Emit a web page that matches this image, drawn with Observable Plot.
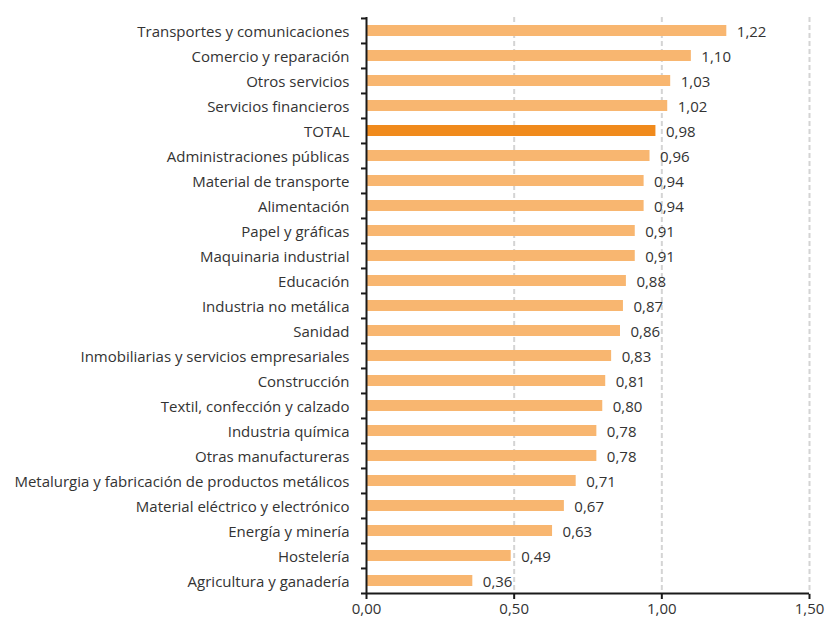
<!DOCTYPE html>
<html>
<head>
<meta charset="utf-8">
<script src="https://cdn.jsdelivr.net/npm/d3@7"></script>
<script src="https://cdn.jsdelivr.net/npm/@observablehq/plot@0.6"></script>
<style>
  html, body { margin: 0; padding: 0; background: #fff; }
  #chart { width: 828px; height: 624px; }
</style>
</head>
<body>
<div id="chart"></div>
<script>
const categories = [
  "Transportes y comunicaciones",
  "Comercio y reparación",
  "Otros servicios",
  "Servicios financieros",
  "TOTAL",
  "Administraciones públicas",
  "Material de transporte",
  "Alimentación",
  "Papel y gráficas",
  "Maquinaria industrial",
  "Educación",
  "Industria no metálica",
  "Sanidad",
  "Inmobiliarias y servicios empresariales",
  "Construcción",
  "Textil, confección y calzado",
  "Industria química",
  "Otras manufactureras",
  "Metalurgia y fabricación de productos metálicos",
  "Material eléctrico y electrónico",
  "Energía y minería",
  "Hostelería",
  "Agricultura y ganadería"
];
const values = [1.22, 1.10, 1.03, 1.02, 0.98, 0.96, 0.94, 0.94, 0.91, 0.91, 0.88, 0.87, 0.86, 0.83, 0.81, 0.80, 0.78, 0.78, 0.71, 0.67, 0.63, 0.49, 0.36];
const xTicks = [0, 0.5, 1.0, 1.5];
const gridTicks = [0.5, 1.0, 1.5];
const highlight = "TOTAL";

const data = categories.map((c, i) => ({category: c, value: values[i]}));
const fmt = d3.formatLocale({decimal: ",", thousands: ".", grouping: [3], currency: ["", "€"]}).format(".2f");

const W = 828, H = 624, mTop = 17, mBottom = 30;
const halfStep = (H - mTop - mBottom) / categories.length / 2;

const chart = Plot.plot({
  width: W,
  height: H,
  marginLeft: 366,
  marginRight: 19,
  marginTop: mTop,
  marginBottom: mBottom,
  style: {fontFamily: "'Open Sans', 'Noto Sans', sans-serif", fontSize: "15px", color: "#333", background: "#fff"},
  x: {domain: [0, 1.5]},
  y: {domain: categories, padding: 0},
  marks: [
    Plot.ruleX(gridTicks, {stroke: "#d4d4d4", strokeWidth: 2, strokeDasharray: "5,3"}),
    Plot.barX(data, {
      y: "category", x: "value",
      fill: d => d.category === highlight ? "#F08A1C" : "#F8B670",
      insetTop: 7, insetBottom: 7
    }),
    Plot.text(data, {
      y: "category", x: "value", text: d => fmt(d.value),
      textAnchor: "start", dx: 10, dy: 1, fill: "#333", fontSize: 15
    }),
    Plot.axisY({tickSize: 0, tickPadding: 17, dy: 1, fontSize: 15, fill: "#333", label: null}),
    Plot.axisY({tickSize: 5, tickFormat: () => "", dy: -halfStep, stroke: "#1a1a1a", strokeWidth: 2, label: null}),
    Plot.ruleY([categories[categories.length - 1]], {dy: halfStep, stroke: "#1a1a1a", strokeWidth: 2, insetLeft: -5}),
    Plot.ruleX([0], {stroke: "#1a1a1a", strokeWidth: 2}),
    Plot.axisX({ticks: xTicks, tickFormat: fmt, tickSize: 5, tickPadding: 4, stroke: "#1a1a1a", strokeWidth: 2, fontSize: 15, fill: "#333", label: null})
  ]
});
document.getElementById("chart").appendChild(chart);
</script>
</body>
</html>
